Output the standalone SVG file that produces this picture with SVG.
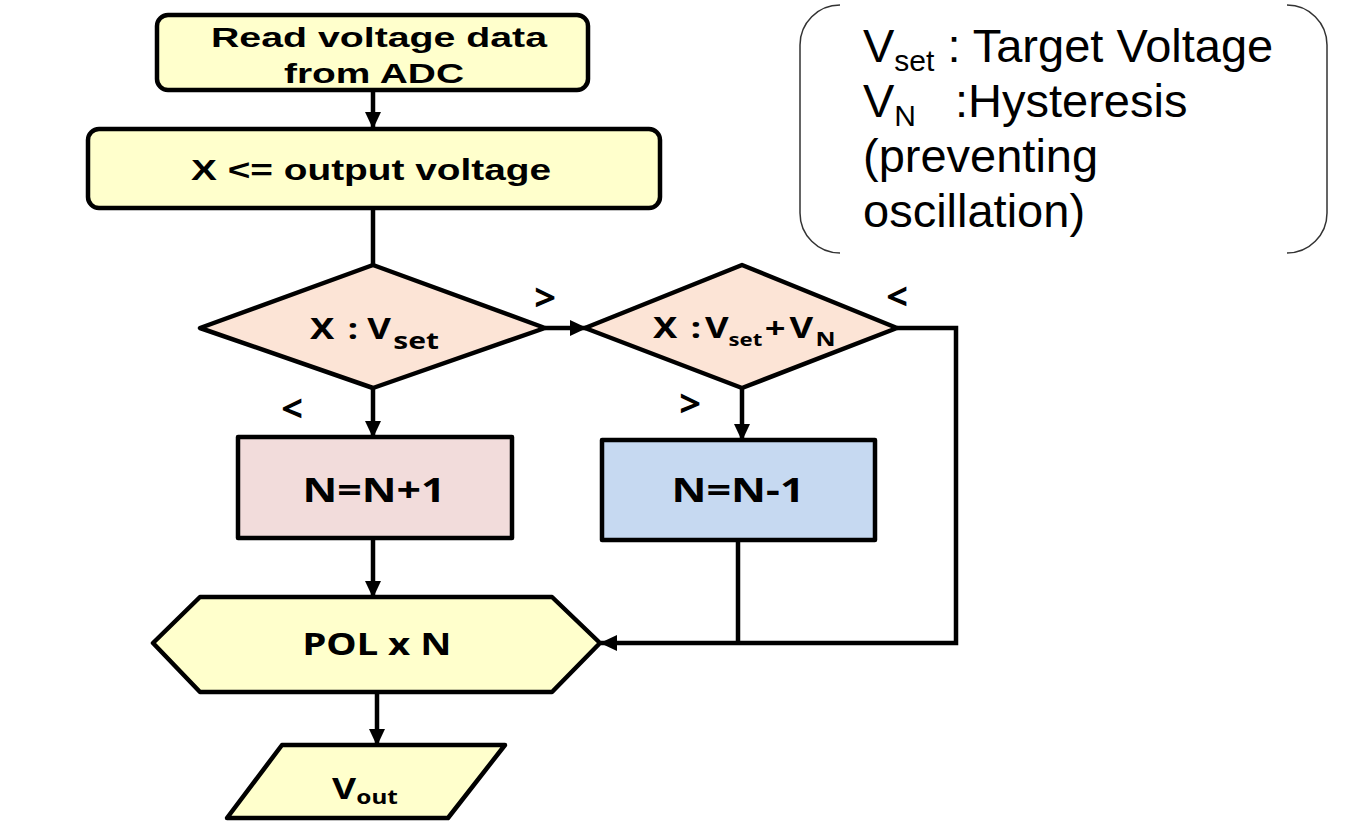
<svg xmlns="http://www.w3.org/2000/svg" width="1354" height="826" viewBox="0 0 1354 826">
<defs>
<marker id="ah" markerUnits="userSpaceOnUse" markerWidth="18" markerHeight="18" viewBox="0 0 18 18" refX="16" refY="9" orient="auto">
<path d="M0,1 L17,9 L0,17 Z" fill="#000"/>
</marker>
<style>
.shape{stroke:#000;stroke-width:4.5;stroke-linejoin:round}
.yel{fill:#FFFFCC}
.dia{fill:#FCE4D6}
.pink{fill:#F2DCDB}
.blue{fill:#C6D9F1}
.conn{fill:none;stroke:#000;stroke-width:4.5}
.arr{marker-end:url(#ah)}
.tb{font-family:"Liberation Sans",Arial,sans-serif;font-weight:bold;fill:#000}
.tn{font-family:"Noto Sans","Open Sans",sans-serif;font-weight:bold;fill:#000}
.lg{font-family:"Liberation Sans",Arial,sans-serif;font-size:47px;fill:#000}
</style>
</defs>
<rect width="1354" height="826" fill="#fff"/>

<g id="connectors">
<line class="conn arr" x1="373" y1="90" x2="373" y2="128"/>
<line class="conn" x1="373" y1="208" x2="373" y2="266"/>
<line class="conn arr" x1="545" y1="328" x2="586" y2="328"/>
<line class="conn arr" x1="373" y1="388" x2="373" y2="437"/>
<line class="conn arr" x1="742" y1="388" x2="742" y2="440"/>
<polyline class="conn arr" points="897,328 956,328 956,643 601,643"/>
<line class="conn" x1="738" y1="540" x2="738" y2="643"/>
<line class="conn arr" x1="373" y1="538" x2="373" y2="597"/>
<line class="conn arr" x1="377" y1="692" x2="377" y2="745"/>
</g>

<g id="read-adc">
<rect class="shape yel" x="157" y="15" width="431" height="75" rx="11"/>
<text class="tb" x="379" y="47" font-size="27" text-anchor="middle" textLength="336" lengthAdjust="spacingAndGlyphs">Read voltage data</text>
<text class="tb" x="374" y="83" font-size="27" text-anchor="middle" textLength="180" lengthAdjust="spacingAndGlyphs">from ADC</text>
</g>

<g id="x-output">
<rect class="shape yel" x="88" y="129" width="572" height="79" rx="11"/>
<text class="tb" x="371" y="180" font-size="29" text-anchor="middle" textLength="360" lengthAdjust="spacingAndGlyphs">X &lt;= output voltage</text>
</g>

<g id="decision1">
<polygon class="shape dia" points="373,265 545,328 373,388 200,328"/>
<text class="tn" font-size="28" transform="translate(310,339) scale(1.3,1)"><tspan x="0">X</tspan><tspan x="29">:</tspan><tspan x="44">V</tspan><tspan x="64" font-size="23" dy="10">set</tspan></text>
</g>

<g id="decision2">
<polygon class="shape dia" points="742,265 897,328 742,388 585,328"/>
<text class="tn" font-size="28" transform="translate(653,338) scale(1.3,1)"><tspan x="0">X</tspan><tspan x="29">:</tspan><tspan x="40">V</tspan><tspan x="58" font-size="17" dy="8">set</tspan><tspan x="86" dy="-8">+</tspan><tspan x="105">V</tspan><tspan x="125" font-size="19" dy="8">N</tspan></text>
</g>

<g id="labels">
<text class="tn" x="545" y="311" font-size="38" text-anchor="middle">&gt;</text>
<text class="tn" x="292" y="422" font-size="38" text-anchor="middle">&lt;</text>
<text class="tn" x="897" y="310" font-size="38" text-anchor="middle">&lt;</text>
<text class="tn" x="690" y="417" font-size="38" text-anchor="middle">&gt;</text>
</g>

<g id="inc">
<rect class="shape pink" x="238" y="437" width="274" height="101"/>
<text class="tn" x="374" y="502" font-size="34" text-anchor="middle" textLength="143" lengthAdjust="spacingAndGlyphs">N=N+1</text>
</g>

<g id="dec">
<rect class="shape blue" x="602" y="440" width="273" height="100"/>
<text class="tn" x="738" y="502" font-size="34" text-anchor="middle" textLength="133" lengthAdjust="spacingAndGlyphs">N=N-1</text>
</g>

<g id="pol">
<polygon class="shape yel" points="153,643 200,597 552,597 600,643 552,692 200,692"/>
<text class="tn" x="377" y="655" font-size="30" text-anchor="middle" textLength="149" lengthAdjust="spacingAndGlyphs">POL x N</text>
</g>

<g id="vout">
<polygon class="shape yel" points="282,745 505,745 448,818 227,818"/>
<text class="tn" font-size="29" transform="translate(332,799) scale(1.28,1)"><tspan x="0">V</tspan><tspan x="19" font-size="19" dy="5">out</tspan></text>
</g>

<g id="legend">
<path d="M840,5 A40,40 0 0 0 800,45 L800,213 A40,40 0 0 0 840,253" fill="none" stroke="#333" stroke-width="1.5"/>
<path d="M1287,5 A40,40 0 0 1 1327,45 L1327,213 A40,40 0 0 1 1287,253" fill="none" stroke="#333" stroke-width="1.5"/>
<text class="lg" x="863" y="62">V<tspan font-size="30" dy="9">set</tspan><tspan dy="-9"> : Target Voltage</tspan></text>
<text class="lg" x="863" y="117">V<tspan font-size="30" dy="9">N</tspan><tspan dy="-9" x="955">:Hysteresis</tspan></text>
<text class="lg" x="863" y="172">(preventing</text>
<text class="lg" x="863" y="227">oscillation)</text>
</g>
</svg>
